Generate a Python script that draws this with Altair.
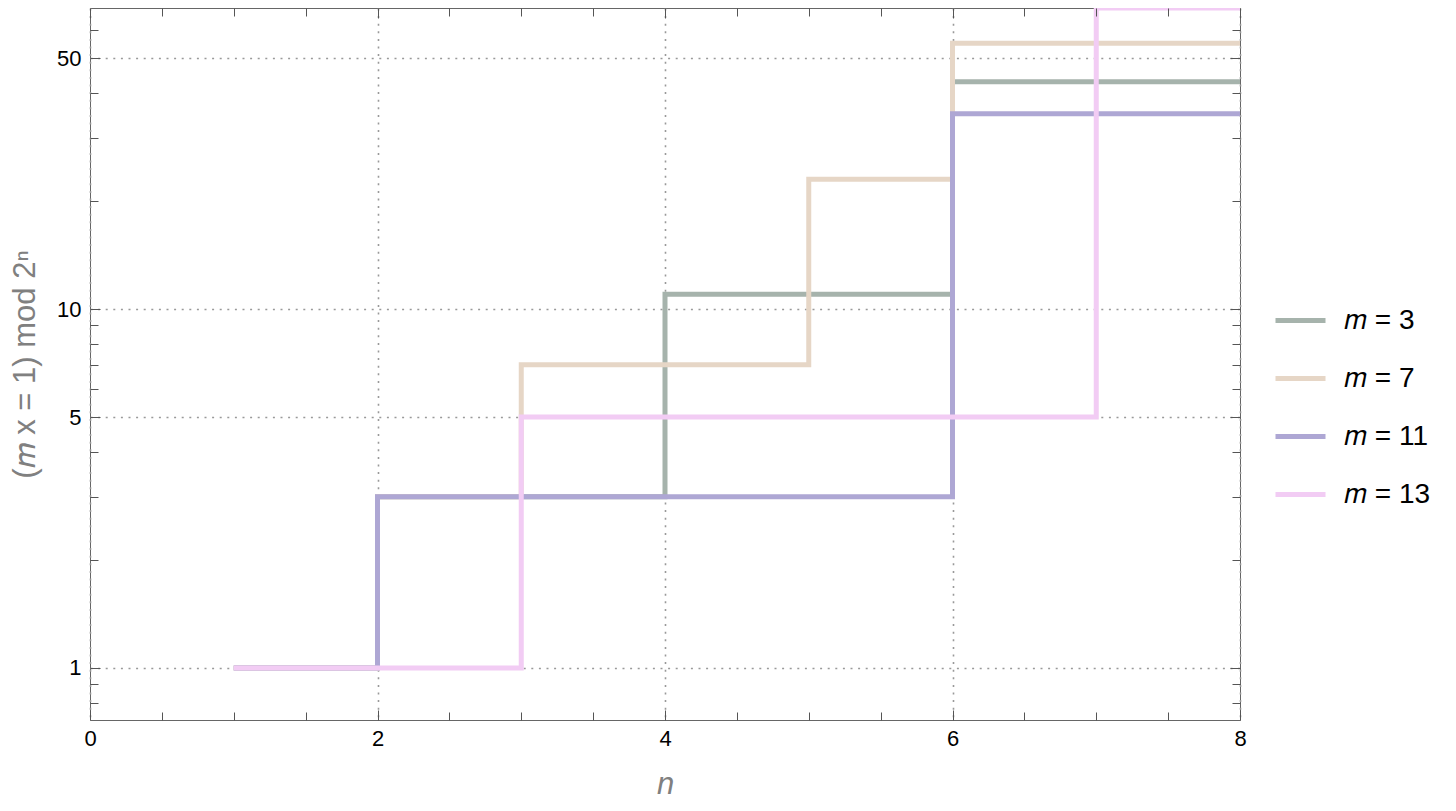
import altair as alt
import pandas as pd

# values (modular inverse of m mod 2^n)
n_values = [1, 2, 3, 4, 5, 6, 7, 8]
m_labels = ["𝑚 = 3", "𝑚 = 7", "𝑚 = 11", "𝑚 = 13"]
inverse_m3 = [1, 3, 3, 11, 11, 43, 43, 43]
inverse_m7 = [1, 3, 7, 7, 23, 55, 55, 55]
inverse_m11 = [1, 3, 3, 3, 3, 35, 35, 35]
inverse_m13 = [1, 1, 5, 5, 5, 5, 69, 69]
line_colors = ["#a6b3ac", "#e6d6c6", "#aea7d4", "#f2ccf4"]

x_major = [0, 2, 4, 6, 8]
x_minor = [0.5, 1, 1.5, 2.5, 3, 3.5, 4.5, 5, 5.5, 6.5, 7, 7.5]
y_major = [1, 5, 10, 50]
y_minor = [0.8, 0.9, 2, 3, 4, 6, 7, 8, 9, 20, 30, 40, 60]

W, H = 1150, 712
FONT = "Liberation Sans"

rows = []
for lab, series in zip(m_labels, [inverse_m3, inverse_m7, inverse_m11, inverse_m13]):
    for n, v in zip(n_values, series):
        rows.append({"n": n, "inverse": v, "m": lab})
df = pd.DataFrame(rows)

x_scale = alt.Scale(domain=[0, 8], nice=False, zero=False)
y_scale = alt.Scale(type="log", domain=[0.716, 69], nice=False)

grid_style = dict(grid=True, gridColor="#999999", gridDash=[2, 5.6], gridWidth=1.6,
                  ticks=False, domain=False, labelFont=FONT, labelFontSize=22,
                  labelColor="#000000", labelFlush=False, titleFont=FONT, titleFontSize=31,
                  titleColor="#808080", titleFontWeight="normal")

lines = alt.Chart(df).mark_line(interpolate="step-after", strokeWidth=5, clip=True).encode(
    x=alt.X("n:Q", scale=x_scale,
            axis=alt.Axis(orient="bottom", values=x_major, title="n", titleFontStyle="italic",
                          labelPadding=8, titlePadding=20, **grid_style)),
    y=alt.Y("inverse:Q", scale=y_scale,
            axis=alt.Axis(orient="left", values=y_major, format="d", title="(𝑚 x = 1) mod 2ⁿ",
                          labelPadding=9, titlePadding=15, **grid_style)),
    color=alt.Color("m:N", scale=alt.Scale(domain=m_labels, range=line_colors),
                    legend=alt.Legend(orient="none", legendX=1183, legendY=285, title=None,
                                      symbolType="stroke", symbolSize=2500, symbolStrokeWidth=5,
                                      labelFont=FONT, labelFontSize=28, labelColor="#000000",
                                      labelOffset=16, rowPadding=16, padding=0)),
)


## inward frame ticks on all four sides (negative offset pulls the axis across the plot)
def frame_ticks(x_side, y_side, x_vals, y_vals, size):
    tick_style = dict(labels=False, domain=False, grid=False, tickSize=size, tickColor="#555555",
                      tickWidth=1, title=None, zindex=1)
    return alt.Chart(df).mark_point(opacity=0).encode(
        x=alt.X("n:Q", scale=x_scale, axis=alt.Axis(orient=x_side, offset=-H, values=x_vals, **tick_style)),
        y=alt.Y("inverse:Q", scale=y_scale, axis=alt.Axis(orient=y_side, offset=-W, values=y_vals, **tick_style)),
    )


ticks_a = frame_ticks("top", "right", x_major, y_major, 10)
ticks_b = frame_ticks("bottom", "left", x_major, y_major, 10)
ticks_c = frame_ticks("top", "right", x_minor, y_minor, 8)
ticks_d = frame_ticks("bottom", "left", x_minor, y_minor, 8)

chart = alt.layer(lines, ticks_a, ticks_b, ticks_c, ticks_d).resolve_axis(
    x="independent", y="independent"
).properties(
    width=W, height=H,
    autosize=alt.AutoSizeParams(type="none"),
    padding={"left": 82, "top": 0, "right": 208, "bottom": 90},
).configure_view(stroke="#666666", strokeWidth=1)

chart.save("out.html", embed_options={"renderer": "svg", "actions": False})
